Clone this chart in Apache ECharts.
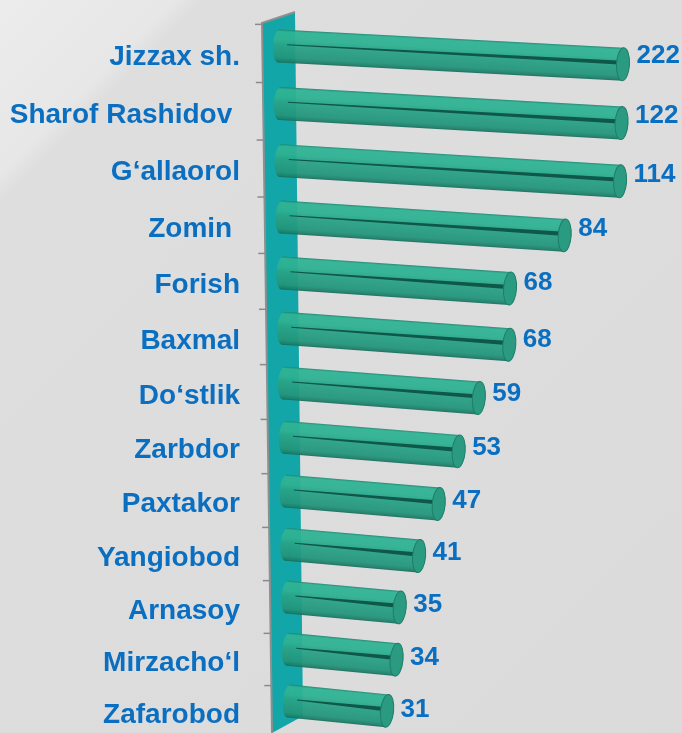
<!DOCTYPE html>
<html>
<head>
<meta charset="utf-8">
<script src="https://cdn.jsdelivr.net/npm/echarts@6/dist/echarts.min.js"></script>
<style>
  html, body { margin: 0; padding: 0; }
  #chart {
    width: 682px; height: 733px;
    background: linear-gradient(135deg, #ececec 0%, #e7e7e7 12.3%, #dedede 14.3%, #dbdbdb 100%);
  }
</style>
</head>
<body>
<div id="chart"></div>
<script>
// Districts and their counts, top to bottom
const districts = ['Jizzax sh.', 'Sharof Rashidov ', 'G‘allaorol', 'Zomin ', 'Forish', 'Baxmal',
  'Do‘stlik', 'Zarbdor', 'Paxtakor', 'Yangiobod', 'Arnasoy', 'Mirzacho‘l', 'Zafarobod'];
const counts = [222, 122, 114, 84, 68, 68, 59, 53, 47, 41, 35, 34, 31];
const valueAxisMax = 100;   // long bars are cut at the edge of the value axis

// Layout of the plot area (rows sit on the category ticks, first and last at the edges)
const GRID = { left: 284, top: 55, width: 344, height: 658 };
const LABEL_COLOR = '#0b6fc1';
const FONT_FAMILY = '"Liberation Sans", Arial, sans-serif';

// Tilted-plane look: rows spread toward the bottom, the base line leans right,
// lower rows are foreshortened a little along the value direction
const BEND = 0.06;
const SKEW = 10;
const FORESHORTEN = 0.08;
const TEXT_DROP = 2.5;
const n = districts.length;
const span = GRID.height;

function depthOf(i) { return i / (n - 1); }
function bendShift(t) { return span * (t * (1 + BEND) / (1 + BEND * t) - t); }

// Category labels: an invisible spacer line pushes each name down by its row's bend
const rich = { name: { fontSize: 28, fontWeight: 'bold', color: LABEL_COLOR, fontFamily: FONT_FAMILY, lineHeight: 32 } };
districts.forEach((d, i) => {
  const h = 2 * (bendShift(depthOf(i)) + TEXT_DROP);
  rich['g' + i] = { fontSize: 1, height: h, lineHeight: h };
});

const bodyGradient = new echarts.graphic.LinearGradient(0, 0, 0, 1, [
  { offset: 0, color: '#1d866f' },
  { offset: 0.06, color: '#2fb395' },
  { offset: 0.3, color: '#2db192' },
  { offset: 0.45, color: '#28a488' },
  { offset: 0.55, color: '#27a085' },
  { offset: 0.85, color: '#22957b' },
  { offset: 0.95, color: '#1c806a' },
  { offset: 1, color: '#176b5a' }
]);

function renderWall(params, api) {
  const first = api.coord([0, 0]);
  const x0 = first[0] - 5;
  const top = first[1] - 32;
  const bottom = api.getHeight();
  const leftAt = y => x0 - 17 + SKEW * (y - top) / (bottom - top);
  const tl = [x0 - 17, top];
  const tr = [x0 + 16, top - 11];
  const br = [x0 + 24, bottom - 17];
  const bl = [x0 - 7, bottom];
  const children = [
    { type: 'polygon', shape: { points: [tl, tr, br, bl] }, style: { fill: '#12a6a8' } },
    { type: 'polyline', shape: { points: [bl, tl, tr] }, style: { stroke: '#8f8f8f', lineWidth: 2, fill: null } }
  ];
  for (let k = 0; k < n; k++) {
    const t = (k - 0.5) / (n - 1);
    const y = first[1] + span * t + bendShift(t) - 1.5;
    const xe = leftAt(y);
    children.push({ type: 'line', shape: { x1: xe - 7, y1: y, x2: xe, y2: y }, style: { stroke: '#8a8a8a', lineWidth: 1.5 } });
  }
  return { type: 'group', children };
}

function renderBar(params, api) {
  const i = api.value(0);
  const v = api.value(1);
  const t = depthOf(i);
  const base = api.coord([0, i]);
  const tip = api.coord([Math.min(v, valueAxisMax), i]);
  const skew = SKEW * (t - 0.5);
  const rowY = base[1] + bendShift(t);
  const xL = base[0] + skew;
  const xR = xL + (tip[0] - base[0]) * (1 - FORESHORTEN * t);
  const yL = rowY - 9 - 3 * t;
  const slope = 0.053 + 0.047 * t;
  const yR = yL + slope * (xR - xL);
  const len = Math.hypot(xR - xL, yR - yL);
  const ang = Math.atan2(yR - yL, xR - xL);
  const r = 16.5;
  return {
    type: 'group',
    children: [
      {
        type: 'group', x: xL, y: yL, rotation: -ang,
        children: [
          { type: 'ellipse', shape: { cx: 0, cy: 0, rx: 6, ry: r }, style: { fill: bodyGradient, opacity: 0.94 } },
          { type: 'rect', shape: { x: 0, y: -r, width: len, height: 2 * r }, style: { fill: bodyGradient, opacity: 0.94 } },
          { type: 'polygon', shape: { points: [[8, -2.2], [len, -3.6], [len, 0.6], [8, -1.2]] }, style: { fill: '#0f5748' } },
          { type: 'ellipse', shape: { cx: len, cy: 0, rx: 6.5, ry: r }, style: { fill: '#2a9a80', stroke: '#1f7d69', lineWidth: 1 } }
        ]
      },
      {
        type: 'text', x: xR + 13.5, y: yR - 8 + 7 * t,
        style: { text: String(v), fill: LABEL_COLOR, font: 'bold 26px ' + FONT_FAMILY, align: 'left', verticalAlign: 'middle' }
      }
    ]
  };
}

const chart = echarts.init(document.getElementById('chart'), null, { renderer: 'canvas' });
chart.setOption({
  backgroundColor: 'transparent',
  animation: false,
  grid: { left: GRID.left, top: GRID.top, width: GRID.width, height: GRID.height, containLabel: false },
  xAxis: {
    type: 'value', min: 0, max: valueAxisMax, show: false
  },
  yAxis: {
    type: 'category', inverse: true, boundaryGap: false, data: districts,
    axisLine: { show: false }, axisTick: { show: false }, splitLine: { show: false },
    axisLabel: {
      margin: 44,
      interval: 0,
      formatter: (value, index) => '{g' + index + '| }\n{name|' + value + '}',
      rich
    }
  },
  series: [
    { type: 'custom', z: 1, silent: true, data: [[0, 0]], encode: { x: 1, y: 0 }, renderItem: renderWall },
    { type: 'custom', z: 2, silent: true, data: counts.map((v, i) => [i, v]), encode: { x: 1, y: 0 }, renderItem: renderBar }
  ]
});
</script>
</body>
</html>
